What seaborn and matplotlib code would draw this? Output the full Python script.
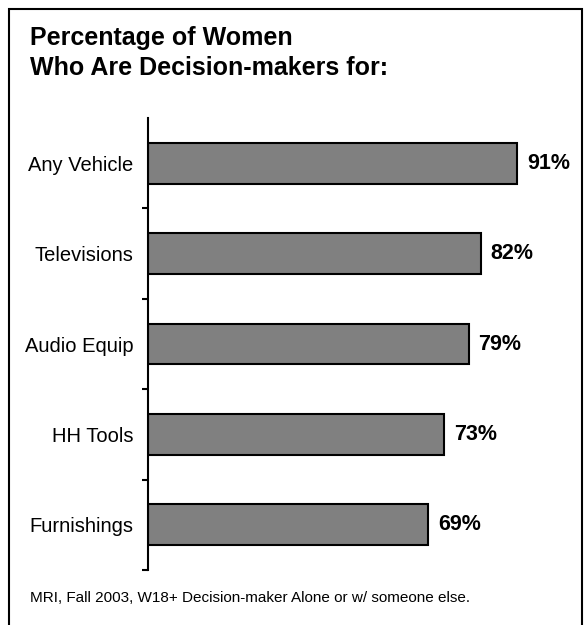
import matplotlib
matplotlib.use('Agg')
import matplotlib.pyplot as plt
from matplotlib.patches import Rectangle
from matplotlib.ticker import FixedLocator
import seaborn as sns

# Chart data
categories = ['Any Vehicle', 'Televisions', 'Audio Equip', 'HH Tools', 'Furnishings']
values = [91, 82, 79, 73, 69]

title_lines = ['Percentage of Women', 'Who Are Decision-makers for:']
footnote = 'MRI, Fall 2003, W18+ Decision-maker Alone or w/ someone else.'

sns.set_style('white')
plt.rcParams['font.family'] = ['Liberation Sans Narrow', 'Liberation Sans', 'DejaVu Sans']
plt.rcParams['text.color'] = 'black'
plt.rcParams['ytick.color'] = 'black'
plt.rcParams['ytick.labelcolor'] = 'black'

W, H = 587, 625
fig = plt.figure(figsize=(W / 100, H / 100), dpi=100)
ax = fig.add_axes([148 / W, 1 - 570 / H, 406 / W, (570 - 118) / H])

sns.barplot(x=values, y=categories, orient='h', color='#808080',
            edgecolor='black', linewidth=1.5, width=0.45, saturation=1, ax=ax)

ax.set_xlim(0, 100)
ax.set_ylim(len(categories) - 0.5, -0.5)
ax.set_xlabel('')
ax.set_ylabel('')
ax.set_xticks([])

# category labels with no tick marks, tick marks at the band edges
ax.tick_params(axis='y', which='major', left=False, pad=7, labelsize=14.5)
ax.yaxis.set_minor_locator(FixedLocator([i + 0.5 for i in range(len(categories))]))
ax.tick_params(axis='y', which='minor', left=True, length=4, width=1.5,
               direction='out', color='black')

for s in ['top', 'right', 'bottom']:
    ax.spines[s].set_visible(False)
ax.spines['left'].set_color('black')
ax.spines['left'].set_linewidth(1.5)

ax.bar_label(ax.containers[0], labels=[f'{v}%' for v in values], padding=7,
             fontsize=15.5, fontweight='bold', color='black',
             family=['Liberation Sans', 'DejaVu Sans'])

# title and footnote
fig.text(30 / W, 1 - 45 / H, title_lines[0], fontsize=18, fontweight='bold', va='baseline')
fig.text(30 / W, 1 - 75 / H, title_lines[1], fontsize=18, fontweight='bold', va='baseline')
fig.text(30 / W, 1 - 602 / H, footnote, fontsize=11, va='baseline')

# frame around the chart (open at the bottom edge)
fig.patches.append(Rectangle((9 / W, -0.05), (582 - 9) / W, 1.05 - 9 / H,
                             transform=fig.transFigure, fill=False,
                             edgecolor='black', linewidth=1.5))

fig.savefig('out.png', dpi=100)
